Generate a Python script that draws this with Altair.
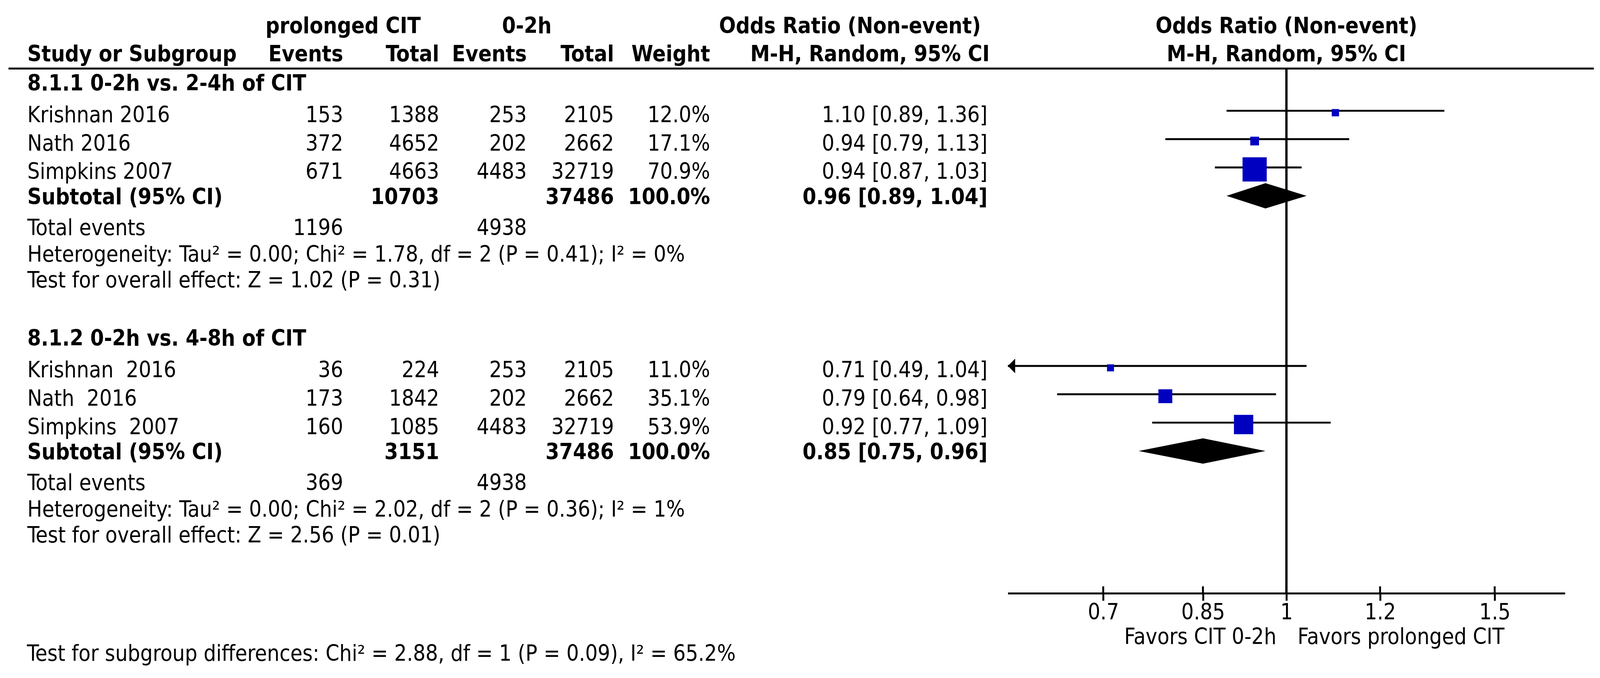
import altair as alt
import pandas as pd

FONT = "DejaVu Sans Condensed, DejaVu Sans, sans-serif"
FS = 57

# ---------------- data ----------------
group_titles = ["8.1.1 0-2h vs. 2-4h of CIT", "8.1.2 0-2h vs. 4-8h of CIT"]
studies = [["Krishnan 2016", "Nath 2016", "Simpkins 2007"],
           ["Krishnan\u00a0\u00a02016", "Nath\u00a0\u00a02016", "Simpkins\u00a0\u00a02007"]]
events_prolonged = [[153, 372, 671], [36, 173, 160]]
total_prolonged = [[1388, 4652, 4663], [224, 1842, 1085]]
events_short = [[253, 202, 4483], [253, 202, 4483]]
total_short = [[2105, 2662, 32719], [2105, 2662, 32719]]
weights = [[12.0, 17.1, 70.9], [11.0, 35.1, 53.9]]
odds = [[1.10, 0.94, 0.94], [0.71, 0.79, 0.92]]
ci_low = [[0.89, 0.79, 0.87], [0.49, 0.64, 0.77]]
ci_high = [[1.36, 1.13, 1.03], [1.04, 0.98, 1.09]]

sub_total_prolonged = [10703, 3151]
sub_total_short = [37486, 37486]
sub_events_prolonged = [1196, 369]
sub_events_short = [4938, 4938]
sub_or = [0.96, 0.85]
sub_low = [0.89, 0.75]
sub_high = [1.04, 0.96]
heterogeneity = ["Heterogeneity: Tau\u00b2 = 0.00; Chi\u00b2 = 1.78, df = 2 (P = 0.41); I\u00b2 = 0%",
                 "Heterogeneity: Tau\u00b2 = 0.00; Chi\u00b2 = 2.02, df = 2 (P = 0.36); I\u00b2 = 1%"]
overall = ["Test for overall effect: Z = 1.02 (P = 0.31)",
           "Test for overall effect: Z = 2.56 (P = 0.01)"]
subgroup_test = "Test for subgroup differences: Chi\u00b2 = 2.88, df = 1 (P = 0.09), I\u00b2 = 65.2%"

tick_values = [0.7, 0.85, 1, 1.2, 1.5]
x_domain = [0.5814, 1.72]
favours = ["Favors CIT 0-2h", "Favors prolonged CIT"]

# ---------------- layout ----------------
W, H = 4148, 1522
ROW0, STEP = 266.0, 73.8
y_dom = [-ROW0 / STEP, (H - ROW0) / STEP]
yscale = alt.Scale(domain=y_dom, reverse=True, zero=False, nice=False)
xscale = alt.Scale(type="log", domain=x_domain, range=[2615, 4065], nice=False)
xaxis = alt.Axis(values=tick_values, format="~g", title=None, grid=False,
                 domainWidth=5, domainColor="black", tickColor="black",
                 tickWidth=5, tickSize=19, labelFontSize=FS, labelFont=FONT,
                 labelColor="black", labelPadding=4, labelFlush=False,
                 labelOverlap=False)
# row offsets of footnote lines relative to the subtotal row
FOOT = {"events": 0.98, "het": 1.91, "overall": 2.82}
GROUP_START = [-1, 8]

# ---------------- build tables ----------------
cells = []


def add(row, col, text, kind):
    cells.append(dict(row=row, col=col, text=str(text), kind=kind))


add(-3, "h_prol", "prolonged CIT", "head")
add(-3, "h_short", "0-2h", "head")
add(-3, "h_or", "Odds Ratio (Non-event)", "head")
add(-3, "h_plot", "Odds Ratio (Non-event)", "head")
add(-2, "name", "Study or Subgroup", "head")
add(-2, "evp", "Events", "head")
add(-2, "totp", "Total", "head")
add(-2, "evs", "Events", "head")
add(-2, "tots", "Total", "head")
add(-2, "w", "Weight", "head")
add(-2, "h_mh", "M-H, Random, 95% CI", "head")
add(-2, "h_plot", "M-H, Random, 95% CI", "head")

study_rows = []
diamond_rows = []
for g in range(2):
    r = GROUP_START[g]
    add(r, "name", group_titles[g], "group")
    r += 1
    for i in range(3):
        add(r, "name", studies[g][i], "normal")
        add(r, "evp", events_prolonged[g][i], "normal")
        add(r, "totp", total_prolonged[g][i], "normal")
        add(r, "evs", events_short[g][i], "normal")
        add(r, "tots", total_short[g][i], "normal")
        add(r, "w", f"{weights[g][i]:.1f}%", "normal")
        add(r, "ci", f"{odds[g][i]:.2f} [{ci_low[g][i]:.2f}, {ci_high[g][i]:.2f}]", "normal")
        study_rows.append(dict(grp=g, row=r, est=odds[g][i], lo=ci_low[g][i],
                               hi=ci_high[g][i], w=weights[g][i]))
        r += 1
    add(r, "name", "Subtotal (95% CI)", "bold")
    add(r, "totp", sub_total_prolonged[g], "bold")
    add(r, "tots", sub_total_short[g], "bold")
    add(r, "w", "100.0%", "bold")
    add(r, "ci", f"{sub_or[g]:.2f} [{sub_low[g]:.2f}, {sub_high[g]:.2f}]", "bold")
    for xv, half in ((sub_low[g], 0), (sub_or[g], 1), (sub_high[g], 0)):
        diamond_rows.append(dict(grp=g, row=r, x=xv, half=half))
    add(r + FOOT["events"], "name", "Total events", "normal")
    add(r + FOOT["events"], "evp", sub_events_prolonged[g], "normal")
    add(r + FOOT["events"], "evs", sub_events_short[g], "normal")
    add(r + FOOT["het"], "name", heterogeneity[g], "normal")
    add(r + FOOT["overall"], "name", overall[g], "normal")

cells = pd.DataFrame(cells)
cells["one"] = 1.0
study_df = pd.DataFrame(study_rows)
diamond_df = pd.DataFrame(diamond_rows)

colspec = {"name": (63, "left"), "evp": (885, "right"), "totp": (1135, "right"),
           "evs": (1363, "right"), "tots": (1590, "right"), "w": (1840, "right"),
           "ci": (2562, "right"), "h_prol": (885, "center"), "h_short": (1363, "center"),
           "h_or": (2204, "center"), "h_mh": (2256, "center"), "h_plot": (None, "center")}
kindspec = {"head": ("bold", 19), "group": ("bold", 21), "bold": ("bold", 22),
            "normal": ("normal", 30)}

layers = []

# header rule
layers.append(alt.Chart(pd.DataFrame({"a": [0]})).mark_rule(color="black", strokeWidth=5).encode(
    x=alt.value(14), x2=alt.value(4140), y=alt.value(156)))

# null line at OR = 1
layers.append(alt.Chart(pd.DataFrame({"one": [1.0]})).mark_rule(color="black", strokeWidth=6).encode(
    x=alt.X("one:Q", scale=xscale, axis=xaxis), y=alt.value(156), y2=alt.value(H)))

# upward part of axis ticks
layers.append(alt.Chart(pd.DataFrame({"t": tick_values})).mark_rule(color="black", strokeWidth=5).encode(
    x=alt.X("t:Q", scale=xscale, axis=xaxis), y=alt.value(H - 18), y2=alt.value(H)))

# CI lines
base = alt.Chart(study_df).transform_calculate(
    lo_c=f"max(datum.lo, {x_domain[0]})", hi_c=f"min(datum.hi, {x_domain[1]})",
    sz="pow(10 + 0.747 * datum.w, 2)")
layers.append(base.mark_rule(color="black", strokeWidth=5).encode(
    x=alt.X("lo_c:Q", scale=xscale, axis=xaxis), x2="hi_c:Q",
    y=alt.Y("row:Q", scale=yscale, axis=None)))
# arrows for truncated CIs
layers.append(base.transform_filter(f"datum.lo < {x_domain[0]}").mark_point(
    shape="M 0 0 L 1 -1 L 1 1 Z", filled=True, color="black", opacity=1, size=1444,
    strokeWidth=0).encode(
    x=alt.X("lo_c:Q", scale=xscale, axis=xaxis), y=alt.Y("row:Q", scale=yscale, axis=None)))
# weight squares
layers.append(base.mark_square(filled=True, color="#0000C0", opacity=1, yOffset=5).encode(
    x=alt.X("est:Q", scale=xscale, axis=xaxis), y=alt.Y("row:Q", scale=yscale, axis=None),
    size=alt.Size("sz:Q", scale=None, legend=None)))

# subtotal diamonds
layers.append(alt.Chart(diamond_df).transform_calculate(
    y1="datum.row - 0.447 * datum.half", y2="datum.row + 0.447 * datum.half").mark_area(
    color="black", opacity=1, orient="vertical").encode(
    x=alt.X("x:Q", scale=xscale, axis=xaxis),
    y=alt.Y("y1:Q", scale=yscale, axis=None), y2="y2:Q", detail="grp:N"))

# table text
for (col, kind), sub in cells.groupby(["col", "kind"]):
    xpos, align = colspec[col]
    weight, dy = kindspec[kind]
    if xpos is None:
        xenc = alt.X("one:Q", scale=xscale, axis=xaxis)
    else:
        xenc = alt.value(xpos)
    layers.append(alt.Chart(sub).mark_text(
        align=align, baseline="alphabetic", dy=dy, font=FONT, fontSize=FS,
        fontWeight=weight, color="black").encode(
        x=xenc, y=alt.Y("row:Q", scale=yscale, axis=None), text="text:N"))

# favours labels
fav = pd.DataFrame({"one": [1.0, 1.0], "text": favours, "side": [0, 1]})
layers.append(alt.Chart(fav).transform_filter("datum.side == 0").mark_text(
    align="right", baseline="alphabetic", dx=-26, font=FONT, fontSize=FS, color="black").encode(
    x=alt.X("one:Q", scale=xscale, axis=xaxis), y=alt.value(1654), text="text:N"))
layers.append(alt.Chart(fav).transform_filter("datum.side == 1").mark_text(
    align="left", baseline="alphabetic", dx=29, font=FONT, fontSize=FS, color="black").encode(
    x=alt.X("one:Q", scale=xscale, axis=xaxis), y=alt.value(1654), text="text:N"))

# subgroup differences test
layers.append(alt.Chart(pd.DataFrame({"text": [subgroup_test]})).mark_text(
    align="left", baseline="alphabetic", font=FONT, fontSize=FS, color="black").encode(
    x=alt.value(62), y=alt.value(1698), text="text:N"))

chart = alt.layer(*layers).properties(width=W, height=H, padding=0, background="white").configure_view(stroke=None)

chart.save("out.html", embed_options={"renderer": "svg", "actions": False})
